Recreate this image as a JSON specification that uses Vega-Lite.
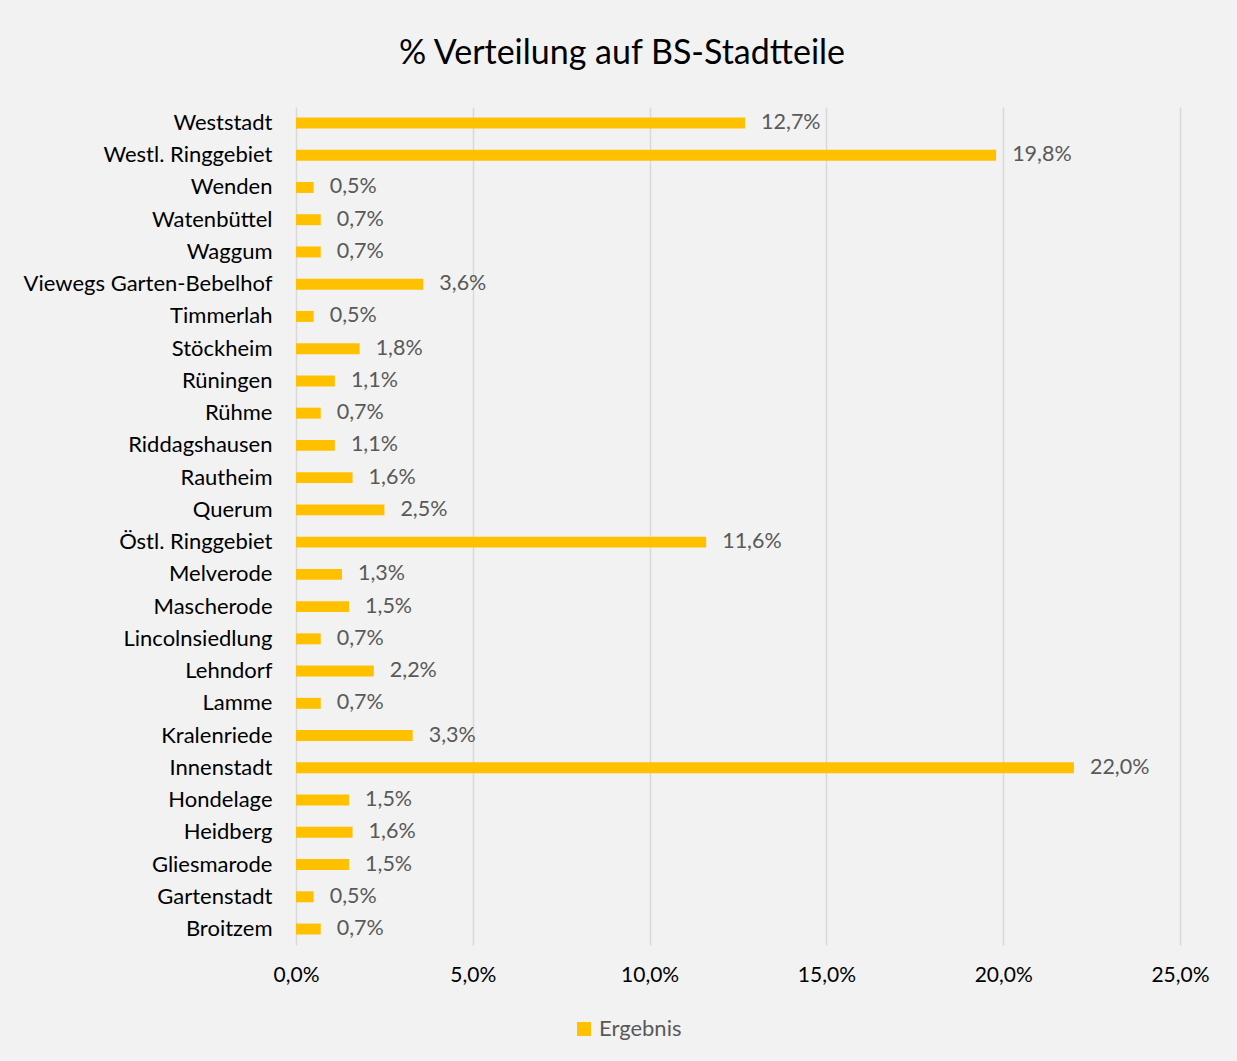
{
  "$schema": "https://vega.github.io/schema/vega-lite/v6.json",
  "autosize": "none",
  "width": 884,
  "height": 838,
  "padding": {"left": 296, "top": 107, "right": 57, "bottom": 116},
  "background": "#f2f2f2",
  "title": {
    "text": "% Verteilung auf BS-Stadtteile",
    "font": "Lato",
    "fontSize": 34,
    "fontWeight": "normal",
    "color": "#000000",
    "anchor": "middle",
    "dx": -116,
    "offset": 36
  },
  "data": {
    "values": [
      {"stadtteil": "Weststadt", "anteil": 0.127},
      {"stadtteil": "Westl. Ringgebiet", "anteil": 0.198},
      {"stadtteil": "Wenden", "anteil": 0.005},
      {"stadtteil": "Watenbüttel", "anteil": 0.007},
      {"stadtteil": "Waggum", "anteil": 0.007},
      {"stadtteil": "Viewegs Garten-Bebelhof", "anteil": 0.036},
      {"stadtteil": "Timmerlah", "anteil": 0.005},
      {"stadtteil": "Stöckheim", "anteil": 0.018},
      {"stadtteil": "Rüningen", "anteil": 0.011},
      {"stadtteil": "Rühme", "anteil": 0.007},
      {"stadtteil": "Riddagshausen", "anteil": 0.011},
      {"stadtteil": "Rautheim", "anteil": 0.016},
      {"stadtteil": "Querum", "anteil": 0.025},
      {"stadtteil": "Östl. Ringgebiet", "anteil": 0.116},
      {"stadtteil": "Melverode", "anteil": 0.013},
      {"stadtteil": "Mascherode", "anteil": 0.015},
      {"stadtteil": "Lincolnsiedlung", "anteil": 0.007},
      {"stadtteil": "Lehndorf", "anteil": 0.022},
      {"stadtteil": "Lamme", "anteil": 0.007},
      {"stadtteil": "Kralenriede", "anteil": 0.033},
      {"stadtteil": "Innenstadt", "anteil": 0.22},
      {"stadtteil": "Hondelage", "anteil": 0.015},
      {"stadtteil": "Heidberg", "anteil": 0.016},
      {"stadtteil": "Gliesmarode", "anteil": 0.015},
      {"stadtteil": "Gartenstadt", "anteil": 0.005},
      {"stadtteil": "Broitzem", "anteil": 0.007}
    ]
  },
  "encoding": {
    "y": {
      "field": "stadtteil",
      "type": "nominal",
      "sort": null,
      "scale": {"paddingInner": 0.66, "paddingOuter": 0.325},
      "axis": {
        "title": null,
        "ticks": false,
        "domain": false,
        "labelFont": "Lato",
        "labelFontSize": 22,
        "labelColor": "#000000",
        "labelPadding": 24,
        "labelLimit": 0
      }
    },
    "x": {
      "field": "anteil",
      "type": "quantitative",
      "scale": {"domain": [0, 0.25], "nice": false},
      "axis": {
        "title": null,
        "format": ".1%",
        "values": [0, 0.05, 0.1, 0.15, 0.2, 0.25],
        "ticks": false,
        "domain": false,
        "grid": true,
        "gridColor": "#d9d9d9",
        "gridWidth": 1.5,
        "labelFont": "Lato",
        "labelFontSize": 21,
        "labelColor": "#000000",
        "labelPadding": 19,
        "labelFlush": false
      }
    }
  },
  "layer": [
    {
      "mark": {"type": "bar", "color": "#FFC000"},
      "encoding": {
        "color": {
          "datum": "Ergebnis",
          "scale": {"range": ["#FFC000"]},
          "legend": {
            "title": null,
            "orient": "none",
            "legendX": 277,
            "legendY": 911,
            "padding": 0,
            "symbolType": "square",
            "symbolSize": 196,
            "symbolStrokeWidth": 0,
            "labelFont": "Lato",
            "labelFontSize": 22,
            "labelColor": "#595959",
            "labelOffset": 4
          }
        }
      }
    },
    {
      "mark": {"type": "text", "align": "left", "dx": 16, "font": "Lato", "fontSize": 21.5, "color": "#595959"},
      "encoding": {
        "text": {"field": "anteil", "type": "quantitative", "format": ".1%"}
      }
    }
  ],
  "config": {
    "view": {"stroke": null},
    "locale": {
      "number": {"decimal": ",", "thousands": ".", "grouping": [3], "currency": ["", " €"], "percent": "%"}
    }
  }
}
